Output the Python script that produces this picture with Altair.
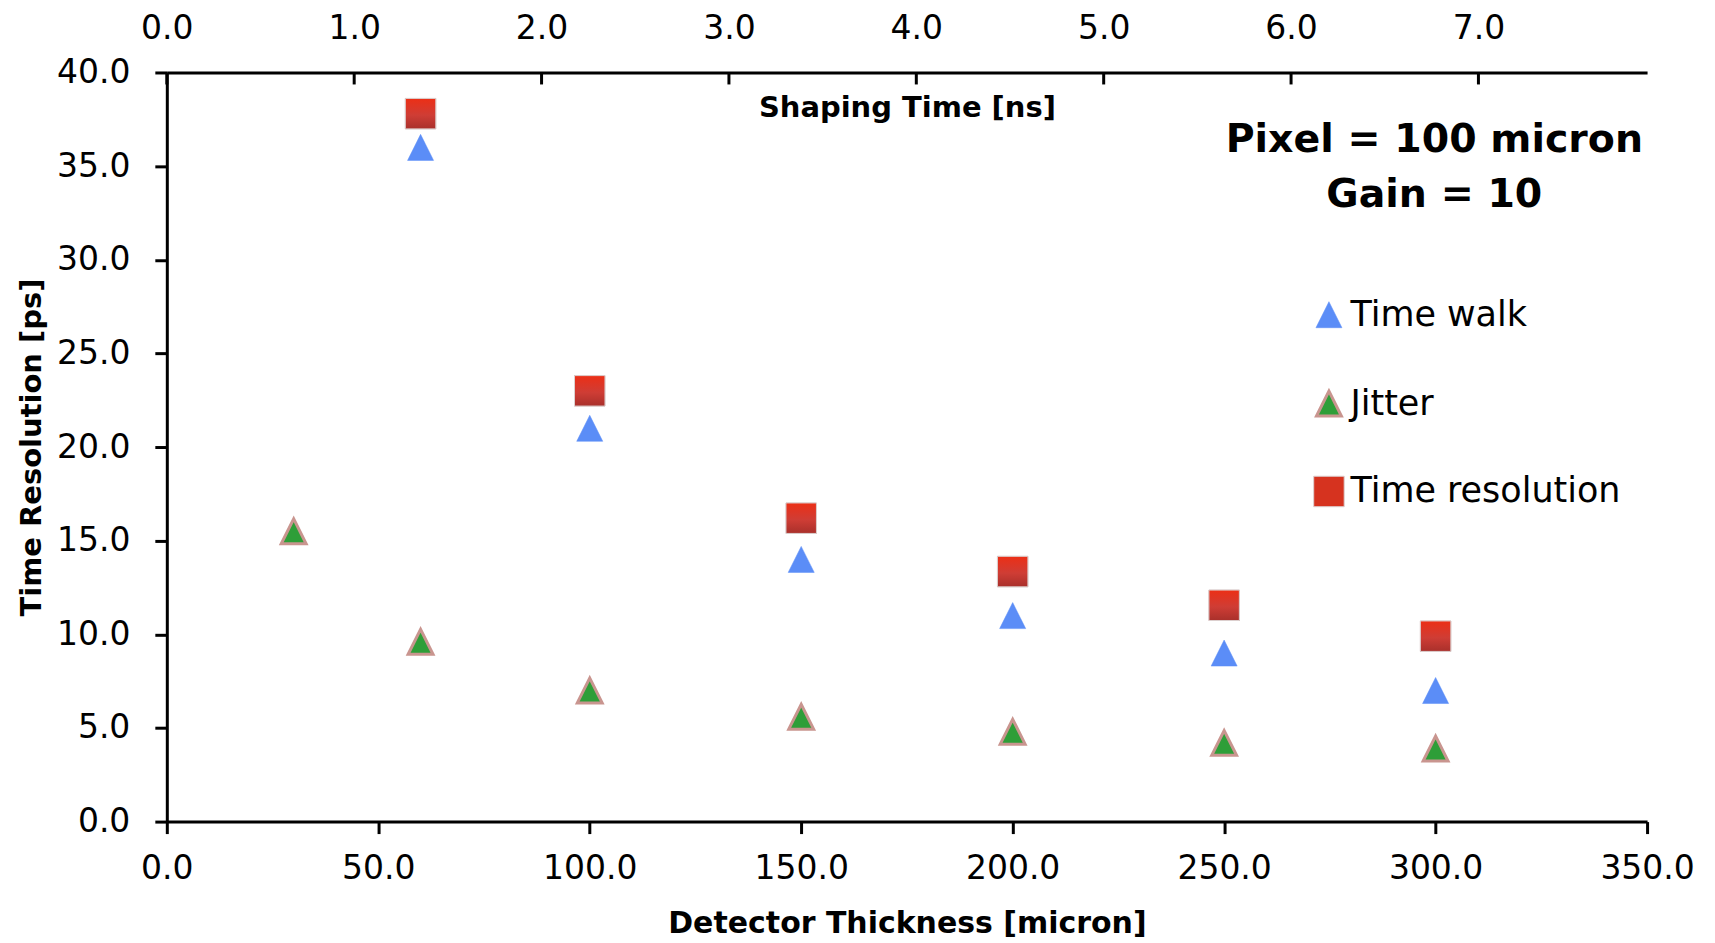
import altair as alt
import pandas as pd

# ---- data ----
series_names = ["Time walk", "Jitter", "Time resolution"]

walk_thickness = [60, 100, 150, 200, 250, 300]
walk_values = [36.0, 21.0, 14.0, 11.0, 9.0, 7.0]

jitter_thickness = [30, 60, 100, 150, 200, 250, 300]
jitter_values = [15.5, 9.6, 7.0, 5.6, 4.8, 4.2, 3.9]

res_thickness = [60, 100, 150, 200, 250, 300]
res_values = [37.8, 23.0, 16.2, 13.35, 11.55, 9.9]

x_ticks = [0, 50, 100, 150, 200, 250, 300, 350]
y_ticks = [0, 5, 10, 15, 20, 25, 30, 35, 40]
shaping_ticks = [0, 1, 2, 3, 4, 5, 6, 7]

rows = []
for t, v in zip(walk_thickness, walk_values):
    rows.append({"thickness": t, "value": v, "series": "Time walk"})
for t, v in zip(jitter_thickness, jitter_values):
    rows.append({"thickness": t, "value": v, "series": "Jitter"})
for t, v in zip(res_thickness, res_values):
    rows.append({"thickness": t, "value": v, "series": "Time resolution"})
df = pd.DataFrame(rows)
res_df = pd.DataFrame({"thickness": res_thickness, "value": res_values})

FONT = "DejaVu Sans"
W, H = 1482, 750
TRI = "M-1,1L0,-1L1,1Z"

x_scale = alt.Scale(domain=[0, 350], nice=False, zero=True)
y_scale = alt.Scale(domain=[0, 40], nice=False)

points = alt.Chart(df).mark_point(filled=True, opacity=1).encode(
    x=alt.X("thickness:Q", scale=x_scale,
            axis=alt.Axis(orient="bottom", values=x_ticks, format=".1f",
                          title="Detector Thickness [micron]",
                          titleFontSize=30, titleFontWeight="bold", titleColor="black",
                          titleY=102, titleBaseline="middle",
                          labelFontSize=33, labelColor="black", labelPadding=19,
                          labelFlush=False, labelOverlap=False,
                          tickSize=12, tickWidth=3, tickColor="black",
                          domainWidth=3, domainColor="black", grid=False)),
    y=alt.Y("value:Q", scale=y_scale,
            axis=alt.Axis(orient="left", values=y_ticks, format=".1f",
                          title="Time Resolution [ps]",
                          titleFontSize=29, titleFontWeight="bold", titleColor="black",
                          titleX=-135, titleY=H / 2, titleAlign="center",
                          titleBaseline="middle", titleAngle=-90,
                          labelFontSize=33, labelColor="black", labelPadding=25,
                          labelFlush=False, labelOverlap=False,
                          tickSize=12, tickWidth=3, tickColor="black",
                          domainWidth=3, domainColor="black", grid=False)),
    fill=alt.Fill("series:N",
                  scale=alt.Scale(domain=series_names,
                                  range=["#5b8df7", "#2e9e38", "#d6331f"]),
                  legend=alt.Legend(orient="none", legendX=1146, legendY=225,
                                    title=None, labelFontSize=35, labelColor="black",
                                    rowPadding=52, labelOffset=4, labelLimit=400)),
    shape=alt.Shape("series:N",
                    scale=alt.Scale(domain=series_names, range=[TRI, TRI, "square"])),
    stroke=alt.Stroke("series:N",
                      scale=alt.Scale(domain=series_names,
                                      range=["#5b8df7", "#c9958f", "#dcd0cf"])),
    strokeWidth=alt.StrokeWidth("series:N",
                                scale=alt.Scale(type="ordinal", domain=series_names,
                                                range=[0.5, 3, 1])),
    size=alt.Size("series:N",
                  scale=alt.Scale(type="ordinal", domain=series_names,
                                  range=[680, 620, 930])),
)

gradient = alt.Gradient(
    gradient="linear", x1=0, x2=0, y1=0, y2=1,
    stops=[alt.GradientStop(offset=0, color="#ec2f16"),
           alt.GradientStop(offset=0.55, color="#cf3d35"),
           alt.GradientStop(offset=1, color="#a9302b")],
)
squares = alt.Chart(res_df).mark_point(
    shape="square", filled=True, opacity=1, size=930, color=gradient,
    stroke="#dcd0cf", strokeWidth=1,
).encode(x=alt.X("thickness:Q", scale=x_scale), y=alt.Y("value:Q", scale=y_scale))

shaping_df = pd.DataFrame({"shaping": shaping_ticks})
top_axis = alt.Chart(shaping_df).mark_rule(color="black", strokeWidth=3).encode(
    x=alt.X("shaping:Q",
            scale=alt.Scale(domain=[0, 7.9], nice=False, zero=True),
            axis=alt.Axis(orient="top", values=shaping_ticks, format=".1f",
                          title="Shaping Time [ns]",
                          titleFontSize=29, titleFontWeight="bold", titleColor="black",
                          titleY=35, titleBaseline="middle",
                          labelFontSize=33, labelColor="black", labelPadding=27,
                          labelFlush=False, labelOverlap=False,
                          ticks=False, domainWidth=3, domainColor="black", grid=False)),
    y=alt.value(0),
    y2=alt.value(12),
)

note1 = alt.Chart(pd.DataFrame({"t": ["Pixel = 100 micron"]})).mark_text(
    fontSize=39.5, fontWeight="bold", color="black", align="center", baseline="middle"
).encode(text="t:N", x=alt.value(1269), y=alt.value(68))
note2 = alt.Chart(pd.DataFrame({"t": ["Gain = 10"]})).mark_text(
    fontSize=39.5, fontWeight="bold", color="black", align="center", baseline="middle"
).encode(text="t:N", x=alt.value(1269), y=alt.value(123))

chart = alt.layer(top_axis, alt.layer(points, squares), note1, note2).resolve_scale(
    x="independent"
).properties(
    width=W, height=H,
    autosize=alt.AutoSizeParams(type="none"),
    padding={"left": 159, "top": 64, "right": 60, "bottom": 118},
).configure(font=FONT).configure_view(stroke=None)

chart.save("out.html", embed_options={"renderer": "svg", "actions": False})
